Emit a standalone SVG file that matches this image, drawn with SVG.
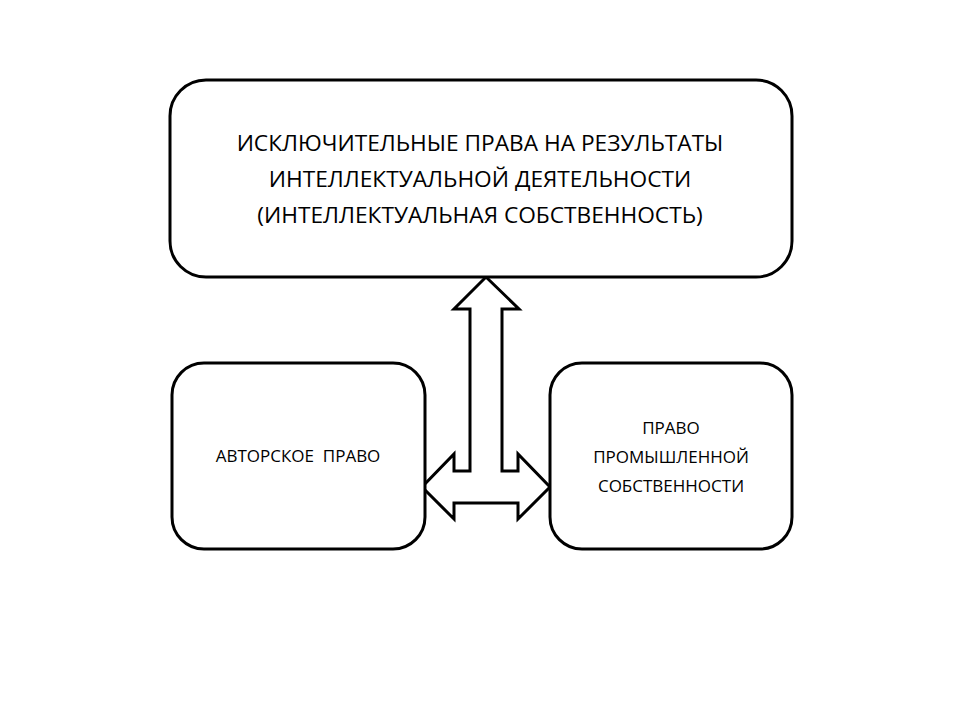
<svg xmlns="http://www.w3.org/2000/svg" width="960" height="720" viewBox="0 0 960 720">
<style>
.b{fill:#fff;stroke:#000;stroke-width:3}
.t{font-family:"Open Sans","Liberation Sans",sans-serif;text-anchor:middle;fill:#000}
.l{font-size:22.7px}.s{font-size:17px}
</style>
<rect width="960" height="720" fill="#fff"/>
<g id="connectors">
<path class="b" d="M486,277 L519,309 L502,309 L502,471 L518,471 L518,454 L550,487 L518,519 L518,503 L454,503 L454,519 L422,487 L454,454 L454,471 L470,471 L470,309 L454,309 Z"/>
</g>
<g id="top">
<rect class="b" x="170" y="80" width="622" height="197" rx="36"/>
<text class="t l" x="480" y="151">ИСКЛЮЧИТЕЛЬНЫЕ ПРАВА НА РЕЗУЛЬТАТЫ</text>
<text class="t l" x="480" y="187">ИНТЕЛЛЕКТУАЛЬНОЙ ДЕЯТЕЛЬНОСТИ</text>
<text class="t l" x="480" y="223">(ИНТЕЛЛЕКТУАЛЬНАЯ СОБСТВЕННОСТЬ)</text>
</g>
<g id="left">
<rect class="b" x="172" y="363" width="253" height="186" rx="32"/>
<text class="t s" x="298" y="462" xml:space="preserve">АВТОРСКОЕ  ПРАВО</text>
</g>
<g id="right">
<rect class="b" x="550" y="363" width="242" height="186" rx="32"/>
<text class="t s" x="671" y="434">ПРАВО</text>
<text class="t s" x="671" y="463">ПРОМЫШЛЕННОЙ</text>
<text class="t s" x="671" y="492">СОБСТВЕННОСТИ</text>
</g>
</svg>
